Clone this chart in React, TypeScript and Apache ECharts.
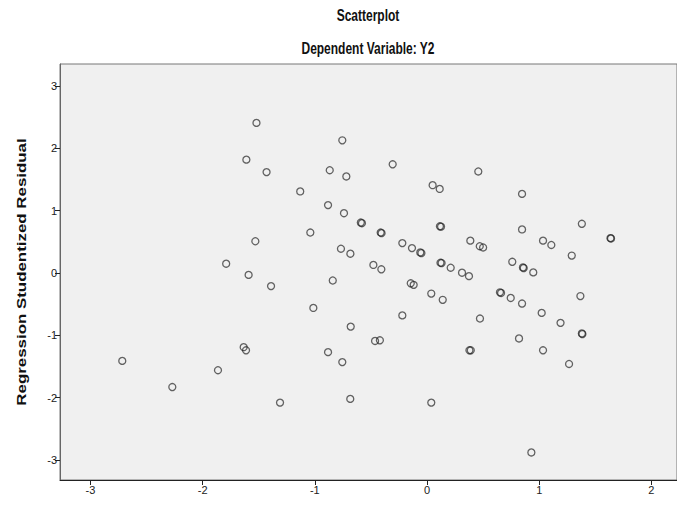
import React, { useEffect, useRef } from "react";
import * as echarts from "echarts";

// Standardized predicted value (x) and studentized residual (y)
const predicted: number[] = [
  -1.52, -1.61, -1.43, -1.53, -1.79, -1.59, -0.755, -0.306, -0.867, -0.719,
  0.457, -1.13, 0.05, 0.113, -0.882, -0.74, -0.59, -0.58, -0.413, -0.405,
  0.115, 0.125, -1.04, -0.767, -0.683, -0.22, -0.134, -0.06, -0.05, 0.386,
  0.47, 0.5, -0.478, -0.407, 0.12, 0.13, 0.211, 0.312, 0.374, -0.84,
  -0.145, -0.119, 0.847, 0.847, 1.38, 1.635, 1.64, 1.034, 1.108, 1.29,
  0.76, 0.855, 0.862, 0.947, -1.39, -1.634, -1.613, -2.716, -1.863, -2.27,
  -1.31, 0.038, 0.14, -1.013, -0.22, 0.472, -0.68, -0.463, -0.42, -0.882,
  -0.755, 0.378, 0.39, -0.684, 0.038, 0.93, 0.65, 0.66, 0.746, 0.847,
  1.367, 1.022, 1.19, 1.38, 1.385, 0.82, 1.034, 1.266,
];
const residual: number[] = [
  2.41, 1.82, 1.62, 0.51, 0.15, -0.03, 2.13, 1.745, 1.65, 1.55,
  1.63, 1.31, 1.41, 1.35, 1.09, 0.96, 0.81, 0.8, 0.65, 0.64,
  0.75, 0.745, 0.65, 0.39, 0.31, 0.48, 0.4, 0.33, 0.32, 0.52,
  0.43, 0.41, 0.13, 0.06, 0.165, 0.16, 0.085, 0.005, -0.05, -0.12,
  -0.165, -0.19, 1.27, 0.7, 0.79, 0.56, 0.555, 0.52, 0.45, 0.28,
  0.18, 0.09, 0.08, 0.01, -0.21, -1.19, -1.24, -1.41, -1.56, -1.83,
  -2.08, -0.33, -0.43, -0.56, -0.68, -0.73, -0.86, -1.09, -1.08, -1.27,
  -1.43, -1.24, -1.24, -2.02, -2.08, -2.88, -0.31, -0.32, -0.4, -0.49,
  -0.37, -0.64, -0.8, -0.97, -0.98, -1.05, -1.24, -1.46,
];
const xTicks: number[] = [-3, -2, -1, 0, 1, 2];
const yTicks: number[] = [-3, -2, -1, 0, 1, 2, 3];

const titleText = "Scatterplot";
const subtitleText = "Dependent Variable: Y2";
const yAxisName = "Regression Studentized Residual";

const FONT = '"Liberation Sans", Arial, Helvetica, sans-serif';

export default function App() {
  const ref = useRef<HTMLDivElement>(null);

  useEffect(() => {
    document.body.style.margin = "0";
    if (!ref.current) return;
    const chart = echarts.init(ref.current, undefined, { renderer: "svg" });
    const points = predicted.map((x, i) => [x, residual[i]]);

    chart.setOption({
      animation: false,
      backgroundColor: "#ffffff",
      grid: {
        left: 60,
        right: 0,
        top: 64,
        bottom: 26,
        show: true,
        backgroundColor: "#f0f0f0",
        borderColor: "#777777",
        borderWidth: 1,
      },
      xAxis: {
        type: "value",
        min: -3.271,
        max: 2.228,
        axisLine: { show: true, onZero: false, lineStyle: { color: "#222222", width: 1 } },
        axisTick: {
          show: true,
          length: 5,
          customValues: xTicks,
          lineStyle: { color: "#222222" },
        },
        axisLabel: {
          customValues: xTicks,
          margin: 4,
          fontSize: 11,
          color: "#222222",
          fontFamily: FONT,
        },
        splitLine: { show: false },
      },
      yAxis: {
        type: "value",
        min: -3.322,
        max: 3.355,
        axisLine: { show: true, onZero: false, lineStyle: { color: "#666666", width: 1 } },
        axisTick: {
          show: true,
          length: 5,
          customValues: yTicks,
          lineStyle: { color: "#222222" },
        },
        axisLabel: {
          customValues: yTicks,
          margin: 3,
          fontSize: 11,
          color: "#222222",
          fontFamily: FONT,
        },
        splitLine: { show: false },
      },
      graphic: [
        {
          type: "text",
          x: 368,
          y: 15,
          scaleY: 1.3,
          style: {
            text: titleText,
            fontSize: 12,
            fontWeight: "bold",
            fontFamily: FONT,
            fill: "#111111",
            textAlign: "center",
            textVerticalAlign: "middle",
            align: "center",
            verticalAlign: "middle",
          },
        },
        {
          type: "text",
          x: 368,
          y: 48,
          scaleY: 1.3,
          style: {
            text: subtitleText,
            fontSize: 12,
            fontWeight: "bold",
            fontFamily: FONT,
            fill: "#111111",
            textAlign: "center",
            textVerticalAlign: "middle",
            align: "center",
            verticalAlign: "middle",
          },
        },
        {
          type: "text",
          x: 21,
          y: 272,
          rotation: Math.PI / 2,
          scaleX: 1.3,
          style: {
            text: yAxisName,
            fontSize: 13,
            fontWeight: "bold",
            fontFamily: FONT,
            fill: "#111111",
            textAlign: "center",
            textVerticalAlign: "middle",
            align: "center",
            verticalAlign: "middle",
          },
        },
      ],
      series: [
        {
          type: "scatter",
          data: points,
          symbol: "circle",
          symbolSize: 7,
          itemStyle: {
            color: "rgba(0,0,0,0)",
            borderColor: "rgba(30,30,30,0.85)",
            borderWidth: 1.3,
          },
          emphasis: { disabled: true },
        },
      ],
    });

    return () => chart.dispose();
  }, []);

  return <div ref={ref} style={{ width: 677, height: 506 }} />;
}
